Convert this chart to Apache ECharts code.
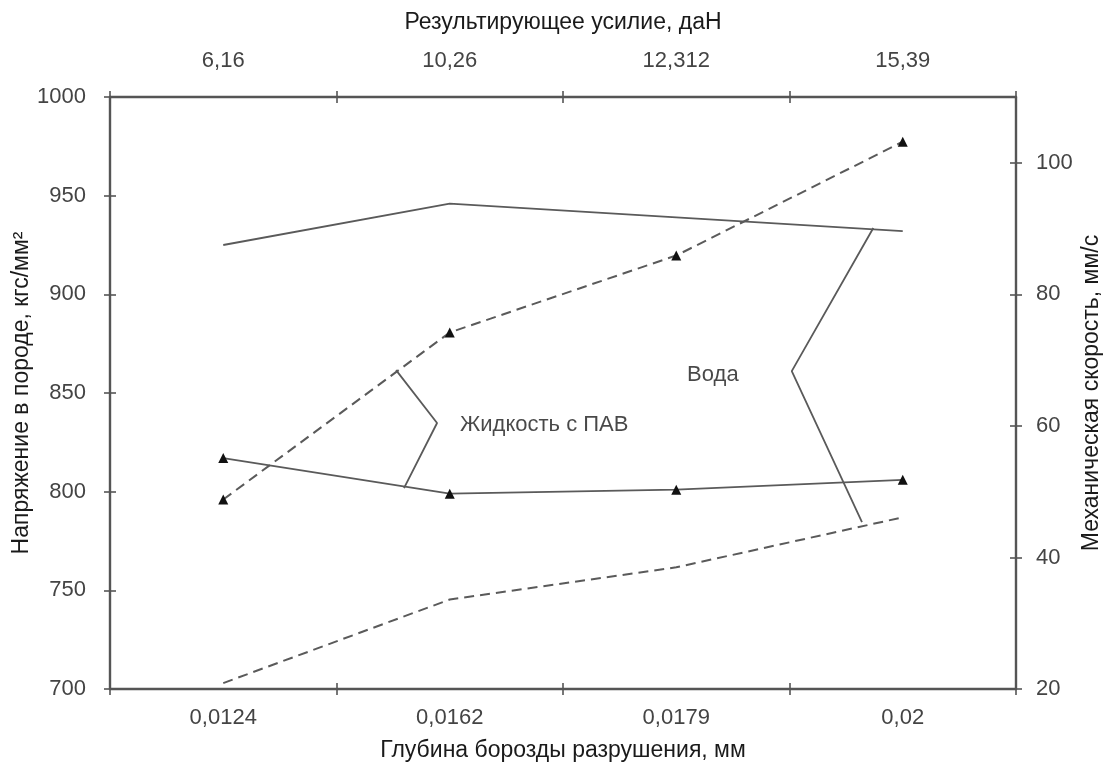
<!DOCTYPE html>
<html>
<head>
<meta charset="utf-8">
<script src="https://cdn.jsdelivr.net/npm/echarts@6/dist/echarts.min.js"></script>
<style>
  html, body { margin: 0; padding: 0; background: #fff; }
  #chart { width: 1106px; height: 773px; }
</style>
</head>
<body>
<div id="chart"></div>
<script>
// Categories: furrow depth (bottom) and resulting force (top)
const depthLabels = ['0,0124', '0,0162', '0,0179', '0,02'];
const forceLabels = ['6,16', '10,26', '12,312', '15,39'];

// Stress in rock, kgf/mm² (left axis)
const stressWater = [925, 946, 939, 932];
const stressSurfactant = [817, 799, 801, 806];

// Mechanical speed, mm/s (right axis)
const speedSurfactant = [48.8, 74.2, 85.9, 103.2];
const speedWater = [20.9, 33.6, 38.5, 46.1];

// Bracket callouts: x in category units (0..4), y in stress units
const bracketWaterX = [3.37, 3.01, 3.32];
const bracketWaterY = [933.6, 861.1, 784.6];
const bracketSurfX = [1.263, 1.444, 1.298];
const bracketSurfY = [861.6, 834.8, 801.8];

// Callout texts with their anchor points
const calloutText = ['Жидкость с ПАВ', 'Вода'];
const calloutX = [1.545, 2.548];
const calloutY = [834, 859];

const AX = '#555';
const LINE = '#5a5a5a';
const TICK_TXT = '#444';
const TITLE_TXT = '#1a1a1a';
const FONT = '"Liberation Sans", Arial, sans-serif';
const FS = 22;
const FS_TITLE = 23;

const chart = echarts.init(document.getElementById('chart'), null, { renderer: 'canvas' });

const zip = (xs, ys) => xs.map((x, i) => [x, ys[i]]);

const tickOpts = (inside) => ({ show: true, inside: inside, length: 6, lineStyle: { color: AX, width: 1.6 } });
const titleStyle = { color: TITLE_TXT, fontSize: FS_TITLE, fontFamily: FONT };
const labelStyle = (margin, extra) => Object.assign(
  { color: TICK_TXT, fontSize: FS, margin: margin, fontFamily: FONT }, extra || {});

const option = {
  backgroundColor: '#fff',
  animation: false,
  textStyle: { fontFamily: FONT },
  grid: { left: 110, right: 90, top: 97, bottom: 84, outerBoundsMode: 'none', containLabel: false },
  xAxis: [
    {
      type: 'category', position: 'bottom', data: depthLabels,
      boundaryGap: true,
      name: 'Глубина борозды разрушения, мм', nameLocation: 'middle', nameGap: 50,
      nameMoveOverlap: false,
      nameTextStyle: titleStyle,
      axisLine: { lineStyle: { color: AX, width: 2.4 } },
      axisTick: tickOpts(false),
      axisLabel: labelStyle(18),
      splitLine: { show: false }
    },
    {
      type: 'category', position: 'top', data: forceLabels,
      boundaryGap: true,
      name: 'Результирующее усилие, даН', nameLocation: 'middle', nameGap: 63,
      nameMoveOverlap: false,
      nameTextStyle: titleStyle,
      axisLine: { lineStyle: { color: AX, width: 2.4 } },
      axisTick: tickOpts(false),
      axisLabel: labelStyle(25),
      splitLine: { show: false }
    },
    {
      // continuous helper axis for the callout brackets
      type: 'value', min: 0, max: 4, show: false
    },
    {
      type: 'category', position: 'bottom', data: depthLabels, boundaryGap: true,
      axisLine: { show: false }, axisTick: tickOpts(true), axisLabel: { show: false }, splitLine: { show: false }
    },
    {
      type: 'category', position: 'top', data: forceLabels, boundaryGap: true,
      axisLine: { show: false }, axisTick: tickOpts(true), axisLabel: { show: false }, splitLine: { show: false }
    }
  ],
  yAxis: [
    {
      type: 'value', position: 'left', min: 700, max: 1000, interval: 50,
      name: 'Напряжение в породе, кгс/мм²', nameLocation: 'middle', nameGap: 77,
      nameMoveOverlap: false,
      nameTextStyle: titleStyle,
      axisLine: { show: true, lineStyle: { color: AX, width: 2.4 } },
      axisTick: tickOpts(false),
      axisLabel: labelStyle(24, { formatter: (v) => String(v) }),
      splitLine: { show: false }
    },
    {
      type: 'value', position: 'right', min: 20, max: 110, interval: 20,
      name: 'Механическая скорость, мм/с', nameLocation: 'middle', nameGap: 64,
      nameMoveOverlap: false,
      nameTextStyle: titleStyle,
      axisLine: { show: true, lineStyle: { color: AX, width: 2.4 } },
      axisTick: tickOpts(false),
      axisLabel: labelStyle(20, { showMaxLabel: false, formatter: (v) => String(v) }),
      splitLine: { show: false }
    },
    {
      type: 'value', position: 'left', min: 700, max: 1000, interval: 50,
      axisLine: { show: false }, axisTick: tickOpts(true), axisLabel: { show: false }, splitLine: { show: false }
    },
    {
      type: 'value', position: 'right', min: 20, max: 110, interval: 20,
      axisLine: { show: false }, axisTick: tickOpts(true),
      axisLabel: { show: false, showMaxLabel: false }, splitLine: { show: false }
    }
  ],
  series: [
    {
      name: 'Напряжение (вода)', type: 'line', xAxisIndex: 0, yAxisIndex: 0,
      data: stressWater, showSymbol: false, symbol: 'none',
      lineStyle: { color: LINE, width: 1.8 }
    },
    {
      name: 'Напряжение (ПАВ)', type: 'line', xAxisIndex: 0, yAxisIndex: 0,
      data: stressSurfactant, symbol: 'triangle', symbolSize: 10,
      itemStyle: { color: '#111' },
      lineStyle: { color: LINE, width: 1.8 }
    },
    {
      name: 'Скорость (ПАВ)', type: 'line', xAxisIndex: 0, yAxisIndex: 1,
      data: speedSurfactant, symbol: 'triangle', symbolSize: 10,
      itemStyle: { color: '#111' },
      lineStyle: { color: LINE, width: 2, type: [10, 6] }
    },
    {
      name: 'Скорость (вода)', type: 'line', xAxisIndex: 0, yAxisIndex: 1,
      data: speedWater, symbol: 'none',
      lineStyle: { color: LINE, width: 2, type: [10, 6] }
    },
    {
      name: 'bracket-water', type: 'line', xAxisIndex: 2, yAxisIndex: 0,
      data: zip(bracketWaterX, bracketWaterY), symbol: 'none',
      lineStyle: { color: LINE, width: 1.8 }
    },
    {
      name: 'bracket-surf', type: 'line', xAxisIndex: 2, yAxisIndex: 0,
      data: zip(bracketSurfX, bracketSurfY), symbol: 'none',
      lineStyle: { color: LINE, width: 1.8 }
    },
    {
      name: 'callouts', type: 'scatter', xAxisIndex: 2, yAxisIndex: 0,
      symbolSize: 0,
      data: calloutText.map((t, i) => ({ value: [calloutX[i], calloutY[i]], name: t })),
      label: {
        show: true, position: 'right', distance: 0,
        formatter: (p) => p.name,
        color: TITLE_TXT, fontSize: FS, fontFamily: FONT
      }
    }
  ]
};

chart.setOption(option);
</script>
</body>
</html>
